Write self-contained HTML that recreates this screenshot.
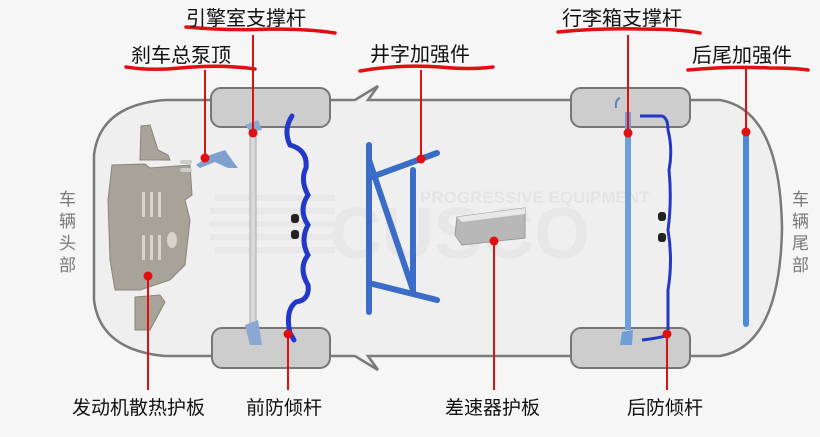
<!DOCTYPE html>
<html><head><meta charset="utf-8"><style>
html,body{margin:0;padding:0;background:#f6f6f6;}
svg{display:block;}
text{font-family:"Liberation Sans","Noto Sans CJK SC",sans-serif;}
</style></head><body>
<svg width="820" height="437" viewBox="0 0 820 437" xmlns="http://www.w3.org/2000/svg">
<rect width="820" height="437" fill="#f6f6f6"/>
<!-- car body -->
<path d="M165,100 L355,100 L378,86 L368,100 L720,100 Q780,110 782,228 Q780,346 720,356 L368,356 L378,370 L355,356 L165,356 Q100,350 94,300 L94,155 Q100,105 165,100 Z" fill="#efefef" stroke="#7a7a7a" stroke-width="2.5"/>
<!-- watermark -->
<g fill="#e7e7e7">
<text x="420" y="203" font-size="17" font-weight="bold" fill="#e4e4e4">PROGRESSIVE EQUIPMENT</text>
<text x="330" y="258" font-size="72" font-weight="bold">CUSCO</text>
<g fill="#e8e8e8"><rect x="215" y="195" width="120" height="6"/><rect x="210" y="208" width="125" height="6"/><rect x="210" y="221" width="125" height="6"/><rect x="210" y="234" width="125" height="6"/><rect x="215" y="247" width="120" height="6"/></g>
</g>
<!-- wheels -->
<g fill="#cdcdcd" stroke="#777" stroke-width="2">
<rect x="211" y="88" width="119" height="39" rx="10"/>
<rect x="212" y="328" width="118" height="40" rx="10"/>
<rect x="571" y="88" width="119" height="39" rx="10"/>
<rect x="571" y="328" width="119" height="40" rx="10"/>
</g>
<!-- front skid plate -->
<g fill="#a8a398" stroke="#8a857b" stroke-width="1">
<polygon points="112,165 145,164 150,168 190,165 192,195 185,200 190,220 185,265 170,280 140,290 115,290 110,260 108,200"/>
<polygon points="141,126 150,125 158,150 168,155 170,160 140,160"/>
<polygon points="135,297 160,295 165,302 150,330 135,330"/>
</g>
<g fill="#d8d4cc"><rect x="142" y="192" width="3" height="25"/><rect x="150" y="192" width="3" height="25"/><rect x="158" y="192" width="3" height="25"/><rect x="142" y="235" width="3" height="25"/><rect x="150" y="235" width="3" height="25"/><rect x="158" y="235" width="3" height="25"/><ellipse cx="172" cy="240" rx="5" ry="8"/></g>
<!-- brake master brace -->
<path d="M196,165 L210,155 L225,150 L232,160 L238,168 L228,168 L215,162 L200,168 Z" fill="#7f9fcf"/>
<rect x="180" y="160" width="12" height="4" rx="2" fill="#ccc"/><rect x="180" y="168" width="12" height="4" rx="2" fill="#ccc"/>
<!-- front strut bar -->
<path d="M250,130 L256,130 L256,340 L250,340 Z" fill="#d8d8d8" stroke="#aaa"/>
<path d="M245,325 L258,320 L262,345 L250,345 Z" fill="#8aa8d0"/>
<path d="M245,125 L258,120 L262,130 L250,132 Z" fill="#8aa8d0"/>
<!-- front sway bar -->
<path d="M292,116 Q283,130 290,145 Q308,150 306,168 Q300,180 308,195 Q298,210 308,225 Q300,240 308,255 Q298,268 308,285 Q310,300 296,302 Q285,310 290,333 L294,340" fill="none" stroke="#2438c8" stroke-width="5" stroke-linecap="round"/>
<g fill="#222"><rect x="291" y="214" width="8" height="9" rx="3"/><rect x="291" y="230" width="8" height="9" rx="3"/></g>
<!-- X brace -->
<g stroke="#3a6cc8" stroke-width="6" stroke-linecap="round" fill="none">
<line x1="369" y1="145" x2="369" y2="312"/>
<line x1="413" y1="170" x2="413" y2="292"/>
<line x1="369" y1="178" x2="437" y2="153"/>
<line x1="369" y1="283" x2="437" y2="300"/>
<line x1="369" y1="160" x2="413" y2="290"/>
</g>
<!-- differential plate -->
<polygon points="457,217 525,208 525,238 462,245 455,235" fill="#b8b8b8" stroke="#999"/>
<polygon points="457,217 525,208 525,214 462,222" fill="#e8e8e8"/>
<!-- rear strut bar -->
<rect x="625" y="112" width="6" height="218" fill="#6f9fd8"/>
<path d="M616,108 Q615,100 620,98" stroke="#5a80c0" stroke-width="2" fill="none"/>
<path d="M622,332 L633,330 L632,345 L620,345" fill="#6f9fd8"/>
<!-- rear sway bar -->
<path d="M640,116 L662,116 Q668,118 668,130 Q673,150 669,170 Q672,200 668,230 Q673,260 668,290 Q668,320 668,335 Q660,338 642,340" fill="none" stroke="#2438c8" stroke-width="3"/>
<g fill="#222"><rect x="658" y="212" width="8" height="9" rx="3"/><rect x="658" y="233" width="8" height="9" rx="3"/></g>
<!-- tail bar -->
<rect x="743" y="130" width="6" height="197" rx="3" fill="#4f8ad8"/>
<!-- red leader lines -->
<g stroke="#e01010" stroke-width="2">
<line x1="253" y1="35" x2="253" y2="133"/>
<line x1="205" y1="70" x2="205" y2="158"/>
<line x1="421" y1="70" x2="421" y2="159"/>
<line x1="628" y1="35" x2="628" y2="133"/>
<line x1="746" y1="68" x2="746" y2="132"/>
<line x1="148" y1="276" x2="148" y2="390"/>
<line x1="288" y1="334" x2="288" y2="390"/>
<line x1="494" y1="241" x2="494" y2="390"/>
<line x1="667" y1="334" x2="667" y2="390"/>
</g>
<g fill="#e01010">
<circle cx="253" cy="133" r="4.5"/><circle cx="205" cy="158" r="4.5"/><circle cx="421" cy="159" r="4.5"/>
<circle cx="628" cy="133" r="4.5"/><circle cx="746" cy="132" r="4.5"/><circle cx="148" cy="276" r="4.5"/>
<circle cx="288" cy="334" r="4.5"/><circle cx="494" cy="241" r="4.5"/><circle cx="667" cy="334" r="4.5"/>
</g>
<!-- wavy underlines -->
<g stroke="#e01010" stroke-width="3.5" fill="none" stroke-linecap="round">
<path d="M186,27 Q230,31 270,29 Q310,29 335,33"/>
<path d="M126,67 Q150,71 180,68 Q220,64 255,69"/>
<path d="M360,71 Q400,64 440,67 Q470,70 493,67"/>
<path d="M558,32 Q600,28 640,29 Q680,29 700,33"/>
<path d="M688,70 Q730,66 770,68 Q795,68 808,70"/>
</g>
<!-- labels -->
<g font-size="20" fill="#111">
<text x="186" y="25">引擎室支撑杆</text>
<text x="131" y="62">刹车总泵顶</text>
<text x="370" y="61">井字加强件</text>
<text x="562" y="25">行李箱支撑杆</text>
<text x="692" y="62">后尾加强件</text>
<text x="72" y="414" font-size="19">发动机散热护板</text>
<text x="246" y="414" font-size="19">前防倾杆</text>
<text x="445" y="414" font-size="19">差速器护板</text>
<text x="627" y="414" font-size="19">后防倾杆</text>
</g>
<g font-size="17" fill="#777">
<text x="59" y="205">车</text><text x="59" y="227">辆</text><text x="59" y="249">头</text><text x="59" y="271">部</text>
<text x="792" y="205">车</text><text x="792" y="227">辆</text><text x="792" y="249">尾</text><text x="792" y="271">部</text>
</g>
</svg>
</body></html>
